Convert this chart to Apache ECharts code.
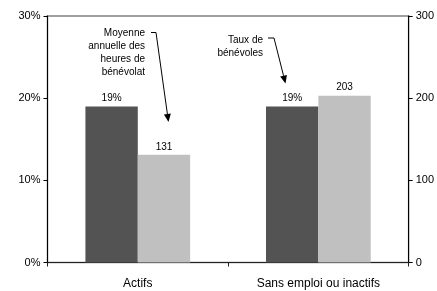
<!DOCTYPE html>
<html>
<head>
<meta charset="utf-8">
<script src="https://cdn.jsdelivr.net/npm/echarts@6/dist/echarts.min.js"></script>
<style>
  html, body { margin: 0; padding: 0; background: #fff; }
  #chart { width: 437px; height: 291px; }
</style>
</head>
<body>
<div id="chart"></div>
<script>
// data
var categories = ['Actifs', 'Sans emploi ou inactifs']
var tauxBenevoles = [19, 19]          // %
var heuresBenevolat = [131, 203]      // heures par an

// arrow helper: hook + shaft + head
function arrow(x0, y0, x1, y1, x2, y2) {
    var dx = x2 - x1, dy = y2 - y1
    var len = Math.sqrt(dx * dx + dy * dy)
    var ux = dx / len, uy = dy / len
    var bx = x2 - ux * 8, by = y2 - uy * 8
    var px = -uy * 3.5, py = ux * 3.5
    return [{
        type: 'polyline',
        shape: { points: [[x0, y0], [x1, y1], [bx, by]] },
        style: { stroke: '#000', lineWidth: 1, fill: null }
    }, {
        type: 'polygon',
        shape: { points: [[x2, y2], [bx + px, by + py], [bx - px, by - py]] },
        style: { fill: '#000' }
    }]
}

var font = 'Liberation Sans, Arial, sans-serif'
var myChart = echarts.init(document.getElementById('chart'))
var option = {
    animation: false,
    grid: {
        left: 47.5, right: 27.5, top: 16, bottom: 28.5,
        show: true, borderColor: '#808080', borderWidth: 1.5
    },
    xAxis: {
        type: 'category',
        data: categories,
        axisLine: { lineStyle: { color: '#222', width: 1 } },
        axisTick: { show: true, length: 4, lineStyle: { color: '#222' } },
        axisLabel: { color: '#000', fontSize: 12, fontFamily: font, margin: 15 }
    },
    yAxis: [{
        type: 'value',
        min: 0, max: 30, interval: 10,
        axisLine: { show: true, lineStyle: { color: '#000' } },
        axisTick: { show: true, length: 4, lineStyle: { color: '#000' } },
        axisLabel: { formatter: '{value}%', color: '#000', fontSize: 11, fontFamily: font, margin: 7 },
        splitLine: { show: false }
    }, {
        type: 'value',
        min: 0, max: 300, interval: 100,
        axisLine: { show: true, lineStyle: { color: '#000' } },
        axisTick: { show: true, length: 4, lineStyle: { color: '#000' } },
        axisLabel: { color: '#000', fontSize: 11, fontFamily: font, margin: 7 },
        splitLine: { show: false }
    }],
    series: [{
        name: 'Taux de bénévoles',
        type: 'bar',
        data: tauxBenevoles,
        yAxisIndex: 0,
        barGap: 0,
        barCategoryGap: '42%',
        itemStyle: { color: '#535353' },
        label: { show: true, position: 'top', distance: 3, formatter: '{c}%', color: '#000', fontSize: 10, fontFamily: font }
    }, {
        name: 'Moyenne annuelle des heures de bénévolat',
        type: 'bar',
        data: heuresBenevolat,
        yAxisIndex: 1,
        barGap: 0,
        barCategoryGap: '42%',
        itemStyle: { color: '#c0c0c0' },
        label: { show: true, position: 'top', distance: 3, color: '#000', fontSize: 10, fontFamily: font }
    }],
    graphic: [{
        type: 'text',
        x: 145, y: 27,
        style: {
            text: 'Moyenne\nannuelle des\nheures de\nbénévolat',
            align: 'right', verticalAlign: 'top', lineHeight: 13,
            font: '10px ' + font, fill: '#000'
        }
    }, {
        type: 'text',
        x: 263, y: 34,
        style: {
            text: 'Taux de\nbénévoles',
            align: 'right', verticalAlign: 'top', lineHeight: 13,
            font: '10px ' + font, fill: '#000'
        }
    }].concat(arrow(151, 32.5, 156, 32.5, 168.5, 122))
      .concat(arrow(268, 38, 274, 38, 285.5, 83.5))
}
myChart.setOption(option)
</script>
</body>
</html>
